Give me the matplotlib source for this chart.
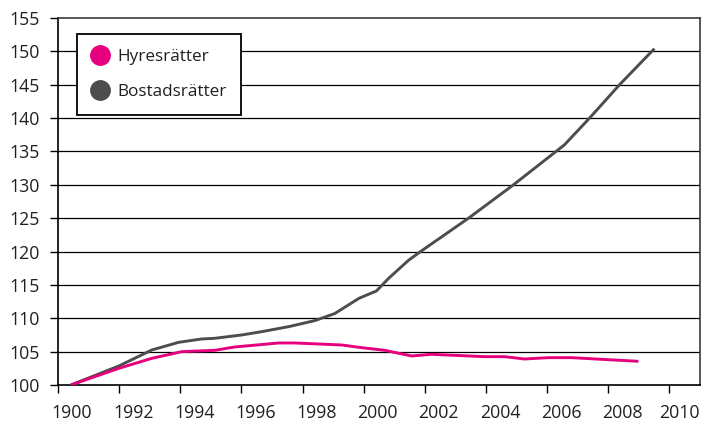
import matplotlib
matplotlib.use("Agg")
import matplotlib.pyplot as plt
from matplotlib.lines import Line2D
from matplotlib.transforms import ScaledTranslation

plt.rcParams["font.family"] = ["Open Sans", "DejaVu Sans"]

# Price index series (base = 100)
hyres_x = [1990.42, 1991.99, 1993.07, 1994.05, 1995.13, 1995.78, 1997.22, 1997.75,
           1999.28, 1999.93, 2000.69, 2001.57, 2002.22, 2003.95, 2004.61, 2005.26,
           2006.05, 2006.80, 2008.99]
hyres_y = [100.0, 102.5, 104.0, 105.0, 105.2, 105.7, 106.3, 106.3,
           106.0, 105.6, 105.2, 104.35, 104.6, 104.25, 104.25, 103.9,
           104.1, 104.1, 103.55]

bostad_x = [1990.42, 1991.99, 1993.07, 1993.95, 1994.70, 1995.13, 1996.01, 1996.67,
            1997.55, 1998.40, 1999.05, 1999.85, 2000.42, 2000.82, 2001.47, 2001.86,
            2003.43, 2004.90, 2006.57, 2007.39, 2008.37, 2009.51]
bostad_y = [100.0, 102.85, 105.25, 106.4, 106.9, 107.0, 107.5, 108.0,
            108.75, 109.65, 110.7, 113.0, 114.1, 116.0, 118.7, 120.0,
            125.0, 130.0, 136.0, 140.0, 145.0, 150.4]

series_names = ["Hyresrätter", "Bostadsrätter"]
series_colors = ["#e6007e", "#4d4d4d"]

x_ticks = list(range(1990, 2011, 2))
x_tick_labels = ["1900", "1992", "1994", "1996", "1998", "2000",
                 "2002", "2004", "2006", "2008", "2010"]
y_ticks = list(range(100, 156, 5))

fig = plt.figure(figsize=(7.02, 4.23), dpi=100)
ax = fig.add_axes([0.0826, 0.0898, 0.997 - 0.0826, 0.9574 - 0.0898])

for y in y_ticks[1:-1]:
    ax.axhline(y, color="black", linewidth=0.9, zorder=1)

ax.plot(bostad_x, bostad_y, color=series_colors[1], linewidth=2.1,
        solid_capstyle="butt", zorder=3)
ax.plot(hyres_x, hyres_y, color=series_colors[0], linewidth=2.1,
        solid_capstyle="butt", zorder=4)

ax.set_xlim(1990, 2011)
ax.set_ylim(100, 155)
ax.set_xticks(x_ticks)
ax.set_xticklabels(x_tick_labels)
ax.set_yticks(y_ticks)

ax.tick_params(axis="both", labelsize=12.8, color="black", width=1.0,
               length=6, direction="out", labelcolor="#231f20")
ax.tick_params(axis="x", pad=8)
ax.tick_params(axis="y", pad=7)

# year labels sit slightly to the right of their ticks
labels = ax.get_xticklabels()
for i, lab in enumerate(labels):
    dx = 0.105 if i == len(labels) - 1 else 0.14
    lab.set_transform(lab.get_transform() + ScaledTranslation(dx, 0, fig.dpi_scale_trans))

for side in ["left", "bottom"]:
    ax.spines[side].set_color("black")
    ax.spines[side].set_linewidth(1.2)
for side in ["top", "right"]:
    ax.spines[side].set_color("#3a3a3a")
    ax.spines[side].set_linewidth(1.2)

handles = [Line2D([], [], linestyle="none", marker="o", markersize=14,
                  markerfacecolor=c, markeredgecolor=c) for c in series_colors]
leg = ax.legend(handles, series_names, loc="upper left",
                bbox_to_anchor=(0.0296, 0.956), borderaxespad=0,
                fontsize=12.3, frameon=True, fancybox=False, framealpha=1,
                edgecolor="black", labelspacing=1.15, handlelength=1.0,
                handletextpad=0.5, borderpad=0.85)
leg.get_frame().set_linewidth(1.3)
for t in leg.get_texts():
    t.set_color("#231f20")
leg.set_zorder(5)

fig.savefig("out.png", dpi=100)
